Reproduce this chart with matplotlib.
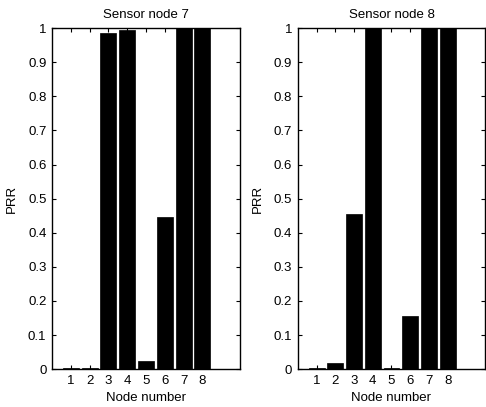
import matplotlib
matplotlib.use("Agg")
import matplotlib.pyplot as plt
import numpy as np

nodes = [1, 2, 3, 4, 5, 6, 7, 8]
prr_node7 = [0.002, 0.002, 0.985, 0.995, 0.025, 0.445, 1.0, 1.0]
prr_node8 = [0.002, 0.018, 0.455, 1.0, 0.003, 0.155, 1.0, 1.0]
titles = ["Sensor node 7", "Sensor node 8"]

plt.rcParams['font.family'] = ['Liberation Sans', 'DejaVu Sans']
plt.rcParams['font.size'] = 9.5

fig = plt.figure(figsize=(4.86, 4.07), dpi=100)
ax1 = fig.add_axes([0.107, 0.093, 0.387, 0.838])
ax2 = fig.add_axes([0.613, 0.093, 0.385, 0.838])

for ax, vals, title in zip([ax1, ax2], [prr_node7, prr_node8], titles):
    ax.bar(nodes, vals, width=0.85, color="black", edgecolor="black", linewidth=0.5)
    ax.set_xlim(0, 10)
    ax.set_ylim(0, 1)
    ax.set_xticks(nodes)
    ax.set_yticks(np.arange(0, 1.01, 0.1))
    ax.set_yticklabels(["0", "0.1", "0.2", "0.3", "0.4", "0.5", "0.6", "0.7", "0.8", "0.9", "1"])
    ax.tick_params(direction="in", top=True, right=True, length=3, width=0.8, pad=4)
    for s in ax.spines.values():
        s.set_linewidth(1.0)
    ax.set_title(title, fontsize=9.5, pad=7)
    ax.set_xlabel("Node number", fontsize=9.5, labelpad=4)
    ax.set_ylabel("PRR", fontsize=9.5, labelpad=7)

fig.savefig("out.png", dpi=100)
plt.close()
